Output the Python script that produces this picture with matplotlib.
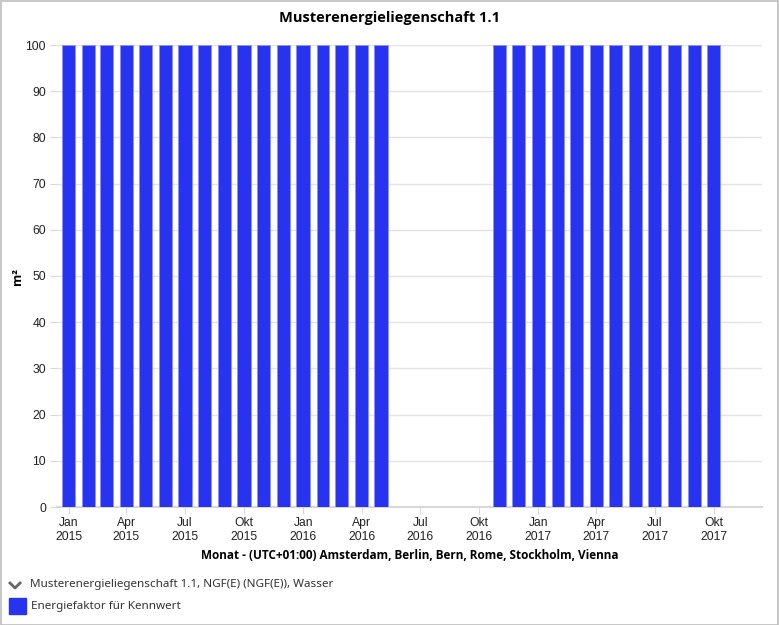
import datetime as dt
import calendar
import matplotlib
matplotlib.use("Agg")
import matplotlib.pyplot as plt
import matplotlib.dates as mdates
from matplotlib.patches import Rectangle
from matplotlib.lines import Line2D

# Monatswerte (Jahr, Monat) und Wert; Lücke Jun-Okt 2016 ohne Daten
monate = [(2015, m) for m in range(1, 13)] + [(2016, m) for m in range(1, 13)] + \
         [(2017, m) for m in range(1, 11)]
werte = [100, 100, 100, 100, 100, 100, 100, 100, 100, 100, 100, 100,
         100, 100, 100, 100, 100, None, None, None, None, None, 100, 100,
         100, 100, 100, 100, 100, 100, 100, 100, 100, 100]

tick_monate = [(2015, 1), (2015, 4), (2015, 7), (2015, 10), (2016, 1), (2016, 4),
               (2016, 7), (2016, 10), (2017, 1), (2017, 4), (2017, 7), (2017, 10)]
monatsnamen = {1: "Jan", 4: "Apr", 7: "Jul", 10: "Okt"}

titel = "Musterenergieliegenschaft 1.1"
x_titel = "Monat - (UTC+01:00) Amsterdam, Berlin, Bern, Rome, Stockholm, Vienna"
legende_gruppe = "Musterenergieliegenschaft 1.1, NGF(E) (NGF(E)), Wasser"
legende_serie = "Energiefaktor für Kennwert"

blau = "#2833ef"

fig = plt.figure(figsize=(7.79, 6.25), dpi=100)
ax = fig.add_axes([57/779, 118/625, 705/779, 462/625])

xs, hs, ws = [], [], []
for (j, m), v in zip(monate, werte):
    if v is None:
        continue
    xs.append(mdates.date2num(dt.datetime(j, m, 1)))
    hs.append(v)
    ws.append(calendar.monthrange(j, m)[1] * 0.67)

ax.bar(xs, hs, width=ws, color=blau, edgecolor="#8d93f6", linewidth=0.6, zorder=3)

ax.set_xlim(mdates.date2num(dt.datetime(2014, 12, 14)),
            mdates.date2num(dt.datetime(2017, 12, 15)))
ax.set_ylim(0, 100)
ax.set_yticks(range(0, 101, 10))

ax.set_xticks([mdates.date2num(dt.datetime(j, m, 1)) for j, m in tick_monate])
ax.set_xticklabels([f"{monatsnamen[m]}\n{j}" for j, m in tick_monate],
                   fontsize=8.7, family="Liberation Sans", color="#222222",
                   linespacing=1.25)
ax.tick_params(axis="x", length=5, color="#d8d8d8", pad=2)
ax.tick_params(axis="y", length=5, color="#d8d8d8", labelsize=8.7,
               labelcolor="#222222", pad=3)
for lab in ax.get_yticklabels():
    lab.set_family("Liberation Sans")

ax.grid(axis="y", color="#e3e3e3", linewidth=1, zorder=0)
for s in ["top", "right", "left"]:
    ax.spines[s].set_visible(False)
ax.spines["bottom"].set_color("#d8d8d8")
ax.spines["bottom"].set_linewidth(1.5)

ax.set_xlabel(x_titel, fontsize=8.5, fontweight="bold", family="Open Sans", labelpad=4)
fig.text(18/779, 1 - 276/625, "m²", rotation=90, fontsize=9, fontweight="bold",
         family="Open Sans", ha="center", va="center")
fig.text(0.5, 1 - 18/625, titel, fontsize=10.5, fontweight="bold", family="Open Sans",
         ha="center", va="center")

# Legende unten
fig.add_artist(Line2D([10/779, 15/779, 20/779], [1 - 583/625, 1 - 588/625, 1 - 583/625],
                      color="#666666", linewidth=2, transform=fig.transFigure))
fig.text(30/779, 1 - 585/625, legende_gruppe, fontsize=8.4, family="Noto Sans",
         color="#333333", va="center")
fig.add_artist(Rectangle((9/779, 1 - 614/625), 17/779, 16/625, color=blau,
                         transform=fig.transFigure))
fig.text(31/779, 1 - 606/625, legende_serie, fontsize=8.4, family="Noto Sans",
         color="#333333", va="center")

# Rahmen um die Grafik
fig.add_artist(Rectangle((0.5/779, 0.5/625), 777.5/779, 623.5/625, fill=False,
                         edgecolor="#bdbdbd", linewidth=1.2, transform=fig.transFigure))

fig.savefig("out.png", dpi=100)
